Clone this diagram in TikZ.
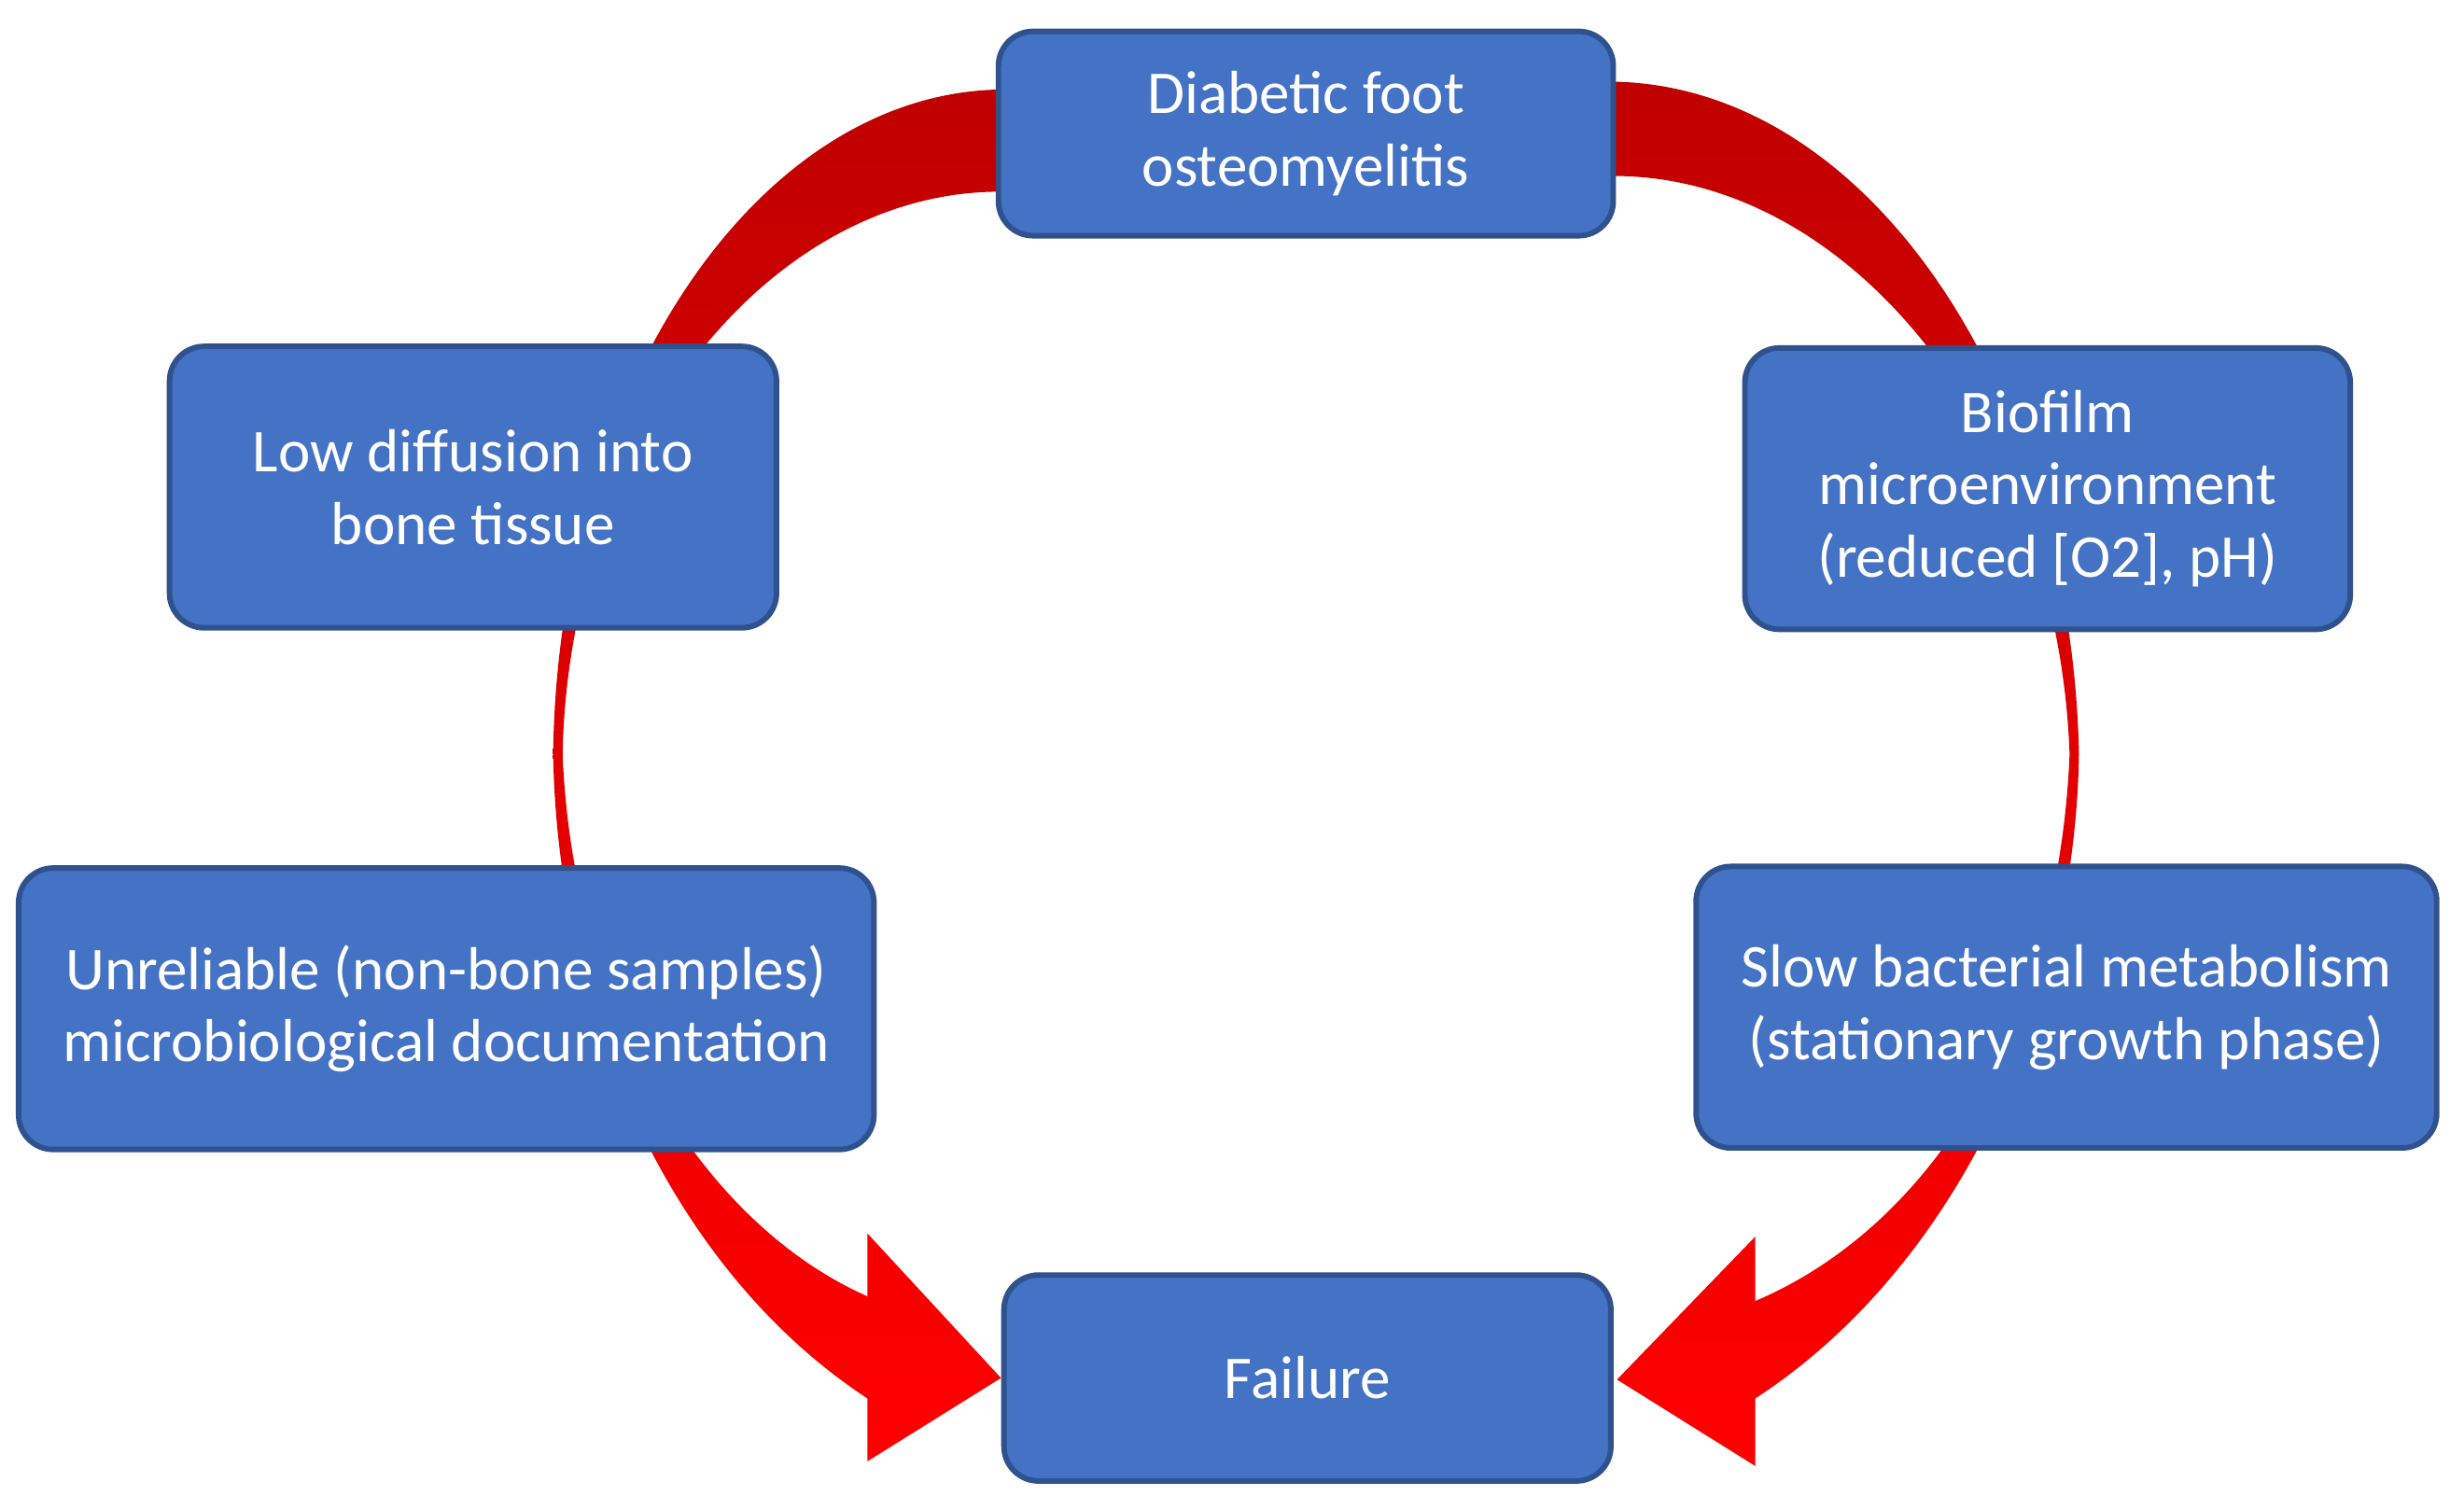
\documentclass[tikz,border=0pt]{standalone}
\usepackage{fontspec}
\setmainfont{Carlito}
\definecolor{boxblue}{HTML}{4472C4}
\definecolor{boxedge}{HTML}{2F528F}
\definecolor{dred}{HTML}{C00000}
\definecolor{mred}{HTML}{E00000}
\definecolor{bred}{HTML}{FF0000}
\begin{document}
\begin{tikzpicture}[x=0.01cm,y=-0.01cm,
  box/.style={draw=boxedge,line width=1pt,fill=boxblue,rounded corners=0.22cm,
    text=white,align=center,font=\fontsize{11}{13.1}\selectfont,inner sep=0pt},
  tsh/.style={top color=dred,bottom color=mred},
  bsh/.style={top color=mred,bottom color=bred}]
\useasboundingbox (0,0) rectangle (1568,961);
% left top crescent
\shade[tsh] (636,57) .. controls (480,60) and (355,250) .. (352,480) -- (358,480)
  .. controls (362,280) and (490,122) .. (636,122) -- cycle;
% left bottom arrow
\shade[bsh] (352,480) .. controls (355,650) and (430,810) .. (552,890) -- (552,930) -- (637,877)
  -- (552,785) -- (552,825) .. controls (450,780) and (365,650) .. (358,480) -- cycle;
% right top crescent
\shade[tsh] (1027,52) .. controls (1190,55) and (1318,250) .. (1323,480) -- (1317,480)
  .. controls (1310,280) and (1180,112) .. (1027,112) -- cycle;
% right bottom arrow
\shade[bsh] (1323,480) .. controls (1320,650) and (1240,810) .. (1117,890) -- (1117,933) -- (1029,878)
  -- (1117,787) -- (1117,828) .. controls (1230,780) and (1310,650) .. (1317,480) -- cycle;
% boxes
\node[box,minimum width=3.91cm,minimum height=1.30cm] (dfo) at (831,85) {Diabetic foot\\osteomyelitis};
\node[box,minimum width=3.86cm,minimum height=1.79cm] (low) at (301,310) {Low diffusion into\\bone tissue};
\node[box,minimum width=3.85cm,minimum height=1.79cm] (bio) at (1303,311) {Biofilm\\microenvironment\\(reduced [O2], pH)};
\node[box,minimum width=5.44cm,minimum height=1.79cm] (unr) at (284,642) {Unreliable (non-bone samples)\\microbiological documentation};
\node[box,minimum width=4.71cm,minimum height=1.79cm] (slow) at (1315,641) {Slow bacterial metabolism\\(stationary growth phase)};
\node[box,minimum width=3.86cm,minimum height=1.31cm] (fail) at (832,877) {Failure};
\end{tikzpicture}
\end{document}
